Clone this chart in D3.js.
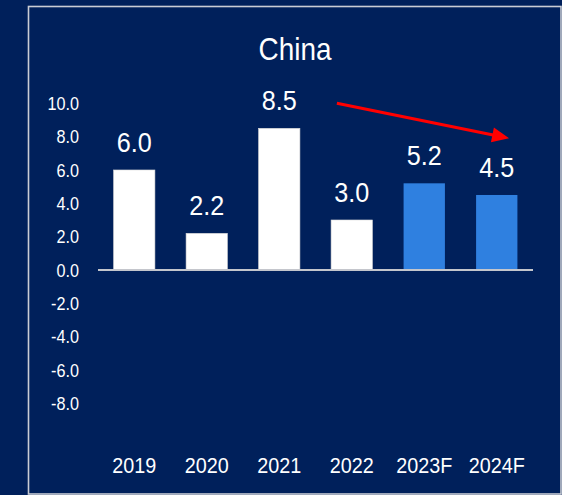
<!DOCTYPE html>
<html>
<head>
<meta charset="utf-8">
<script src="https://cdn.jsdelivr.net/npm/d3@7"></script>
<style>
  html, body { margin: 0; padding: 0; background: #00205b; overflow: hidden; }
  svg { display: block; overflow: hidden; }
  text { font-family: "Liberation Sans", Arial, sans-serif; fill: #ffffff; }
</style>
</head>
<body>
<svg id="chart" width="562" height="495"></svg>
<script>
// Real GDP growth, China (%), actuals and forecasts
const years = ["2019", "2020", "2021", "2022", "2023F", "2024F"];
const growth = [6.0, 2.2, 8.5, 3.0, 5.2, 4.5];
const forecast = [false, false, false, false, true, true];
const yTicks = [-8, -6, -4, -2, 0, 2, 4, 6, 8, 10];
const title = "China";

// Trend arrow: from the 2021 peak toward the 2024 forecast
const trendFrom = { cat: "2022", frac: 0.08, value: 10.0 };
const trendTo = { cat: "2024F", frac: 0.455, value: 7.9 };

const W = 562, H = 495;
const svg = d3.select("#chart");
const squeeze = 0.9; // condensed lettering

const plot = { left: 98, right: 533, top: 103.3, bottom: 436.7 };

const x = d3.scaleBand()
  .domain(years)
  .range([plot.left, plot.right])
  .paddingInner(0.43)
  .paddingOuter(0.215);

const y = d3.scaleLinear()
  .domain([-10, 10])
  .range([plot.bottom, plot.top]);

// Frame
svg.append("rect")
  .attr("x", 28.5).attr("y", 6.5)
  .attr("width", W - 1 - 28.5).attr("height", H - 1 - 6.5)
  .attr("fill", "none")
  .attr("stroke", "#c9ccd4").attr("stroke-width", 1.6);

// Helper for horizontally condensed text
function label(g, tx, ty, str, size, anchor) {
  return g.append("text")
    .attr("transform", `translate(${tx},${ty}) scale(${squeeze},1)`)
    .attr("text-anchor", anchor)
    .style("font-size", size + "px")
    .text(str);
}

// Title
label(svg, 295, 60, title, 31, "middle");

// Y axis tick labels (no axis line, no tick marks), plain hyphen for negatives
const fmt = d => d.toFixed(1);
const yAxis = d3.axisLeft(y).tickValues(yTicks).tickFormat(fmt).tickSize(0).tickPadding(0);
const yg = svg.append("g").attr("transform", "translate(79,0)").call(yAxis);
yg.select(".domain").remove();
yg.selectAll(".tick text")
  .attr("x", 0)
  .attr("dy", "0.35em")
  .attr("fill", "#ffffff")
  .style("font-family", '"Liberation Sans", Arial, sans-serif')
  .style("font-size", "18px")
  .attr("transform", `scale(${squeeze},1)`);

// Bars
const data = years.map((c, i) => ({ cat: c, value: growth[i], fc: forecast[i] }));

svg.append("g").selectAll("rect")
  .data(data)
  .join("rect")
  .attr("x", d => x(d.cat))
  .attr("width", x.bandwidth())
  .attr("y", d => y(Math.max(0, d.value)))
  .attr("height", d => Math.abs(y(d.value) - y(0)))
  .attr("fill", d => d.fc ? "#2f80e0" : "#ffffff")
  .attr("stroke", d => d.fc ? "none" : "#d8d8d8")
  .attr("stroke-width", 0.6);

// Zero line
svg.append("line")
  .attr("x1", plot.left).attr("x2", plot.right)
  .attr("y1", y(0)).attr("y2", y(0))
  .attr("stroke", "#c4c6cc").attr("stroke-width", 2);

// Value labels
const vg = svg.append("g");
data.forEach(d => {
  label(vg, x(d.cat) + x.bandwidth() / 2, y(d.value) - 18, d.value.toFixed(1), 28, "middle");
});

// Category labels
const cg = svg.append("g");
data.forEach(d => {
  label(cg, x(d.cat) + x.bandwidth() / 2, 473, d.cat, 22, "middle");
});

// Trend arrow
const x0 = x(trendFrom.cat) + x.step() * trendFrom.frac;
const y0 = y(trendFrom.value);
const x1 = x(trendTo.cat) + x.step() * trendTo.frac;
const y1 = y(trendTo.value);
const ang = Math.atan2(y1 - y0, x1 - x0);
const headLen = 17, headHalf = 7.5;
const bx = x1 - headLen * Math.cos(ang), by = y1 - headLen * Math.sin(ang);

svg.append("line")
  .attr("x1", x0).attr("y1", y0)
  .attr("x2", bx + 2 * Math.cos(ang)).attr("y2", by + 2 * Math.sin(ang))
  .attr("stroke", "#ff0000").attr("stroke-width", 3);

svg.append("path")
  .attr("d", d3.line()([
    [x1, y1],
    [bx - headHalf * Math.sin(ang), by + headHalf * Math.cos(ang)],
    [bx + headHalf * Math.sin(ang), by - headHalf * Math.cos(ang)]
  ]) + "Z")
  .attr("fill", "#ff0000");
</script>
</body>
</html>
